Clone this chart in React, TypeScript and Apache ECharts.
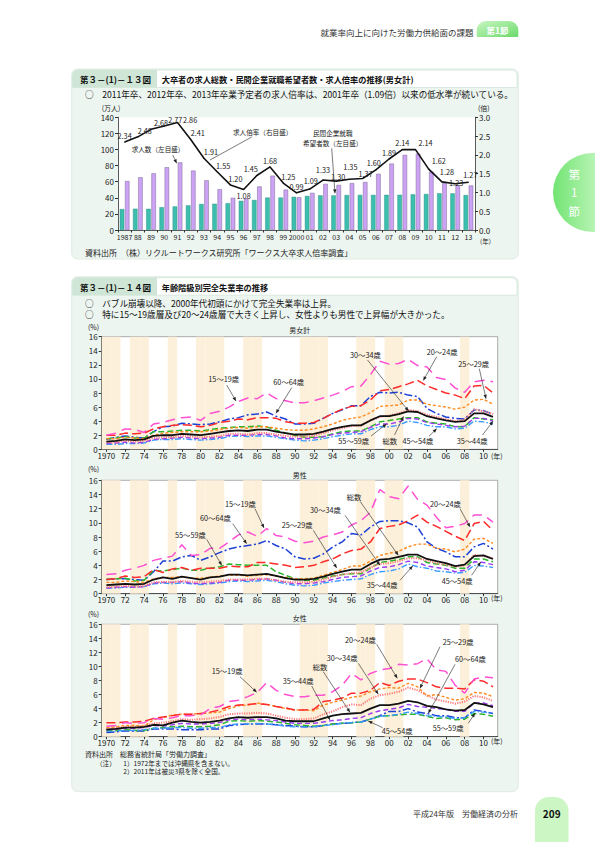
import React, { useEffect, useRef } from "react";
import * as echarts from "echarts";

const FONT = '"Noto Sans CJK JP", "Noto Sans", sans-serif';

// ===== 第3-(1)-13図 data =====
const gradYears = ["1987","88","89","90","91","92","93","94","95","96","97","98","99","2000","01","02","03","04","05","06","07","08","09","10","11","12","13"];
const jobSeekers = [26.0,26.4,26.3,28.3,29.3,30.6,32.3,32.6,33.2,36.2,37.3,40.3,40.3,41.2,42.3,43.0,43.0,43.4,43.5,43.6,43.7,43.7,44.3,44.7,45.6,45.5,43.4];
const jobOffers = [60.8,65.5,70.4,78.0,84.0,73.8,61.7,50.7,40.0,39.1,54.1,67.5,50.2,40.7,46.1,57.3,56.0,58.3,59.6,69.8,82.5,93.3,94.8,72.5,58.2,55.6,55.3];
const offerRatio = [2.34,2.48,2.68,2.77,2.86,2.41,1.91,1.55,1.20,1.08,1.45,1.68,1.25,0.99,1.09,1.33,1.30,1.35,1.37,1.60,1.89,2.14,2.14,1.62,1.28,1.23,1.27];
const leftTicks = { min: 0, max: 140, interval: 20 };
const rightTicks = { min: 0, max: 3, interval: 0.5 };

// ===== 第3-(1)-14図 data =====
const unempYears = ["1970","1971","1972","1973","1974","1975","1976","1977","1978","1979","1980","1981","1982","1983","1984","1985","1986","1987","1988","1989","1990","1991","1992","1993","1994","1995","1996","1997","1998","1999","2000","2001","2002","2003","2004","2005","2006","2007","2008","2009","2010","2011"];
const recessionYears = ["1970","1971","1973","1974","1977","1980","1981","1982","1985","1986","1991","1992","1993","1997","1998","2000","2001","2008"];
const unempTicks = { min: 0, max: 16, interval: 2 };

// 男女計
const all1519 = [2.0,2.3,2.9,2.8,2.4,3.6,3.8,4.2,4.5,4.6,4.1,5.1,5.4,6.0,6.8,7.3,7.2,8.0,7.2,6.9,6.6,6.6,6.9,7.3,7.7,8.2,8.9,9.0,10.6,12.5,12.1,12.2,12.8,11.9,11.7,10.2,9.9,8.7,8.1,9.6,9.8,9.6];
const all2024 = [2.0,2.0,2.3,2.2,2.3,2.9,3.2,3.4,3.5,3.4,3.2,3.4,3.8,4.0,4.3,4.2,4.5,4.5,4.4,3.9,3.7,3.7,3.8,4.4,5.1,5.7,6.1,6.2,7.0,8.3,8.5,8.9,9.3,9.8,9.0,8.5,8.0,7.7,7.2,9.0,9.1,8.0];
const all2529 = [1.5,1.5,1.7,1.6,1.5,2.0,2.3,2.4,2.5,2.5,2.5,2.6,2.8,3.0,3.1,3.0,3.2,3.2,3.0,2.8,2.7,2.7,2.9,3.2,3.6,4.1,4.4,4.6,5.2,6.1,6.2,6.3,7.0,7.0,6.4,6.2,6.0,5.7,6.0,7.0,7.1,6.4];
const all3034 = [1.0,1.0,1.2,1.1,1.2,1.6,1.7,1.7,1.9,1.8,1.7,1.8,1.9,2.2,2.2,2.1,2.3,2.3,2.1,1.9,1.8,1.8,1.9,2.3,2.7,3.0,3.3,3.4,4.1,4.6,4.8,5.1,5.6,5.4,4.9,4.6,4.3,4.0,4.2,5.7,5.4,5.0];
const all3544 = [0.8,0.9,1.0,0.9,1.0,1.4,1.5,1.6,1.7,1.6,1.5,1.6,1.7,2.0,2.0,2.0,2.1,2.1,1.9,1.6,1.5,1.5,1.6,1.8,2.1,2.3,2.4,2.5,3.1,3.6,3.6,3.9,4.4,4.3,3.8,3.6,3.4,3.2,3.3,4.4,4.4,4.0];
const all4554 = [0.7,0.7,0.8,0.8,0.9,1.3,1.4,1.4,1.5,1.4,1.3,1.4,1.5,1.8,1.9,1.8,1.9,1.9,1.7,1.5,1.3,1.2,1.3,1.5,1.8,2.0,2.2,2.2,2.8,3.2,3.2,3.4,4.0,3.8,3.4,3.2,3.2,2.9,3.0,4.0,3.9,3.6];
const all5559 = [1.5,1.6,1.8,1.6,1.6,2.5,2.5,2.6,2.7,2.7,2.6,2.8,3.0,3.1,3.2,3.2,3.3,3.2,2.7,2.3,2.0,1.7,1.7,1.8,2.2,2.5,2.6,2.6,3.2,3.9,4.1,4.3,4.5,4.5,3.9,3.7,3.6,3.2,3.2,4.5,4.3,4.2];
const all6064 = [1.4,1.7,1.9,1.7,1.6,2.5,3.2,3.3,3.7,3.6,3.5,3.6,3.9,4.3,4.5,4.9,5.0,5.3,4.7,4.3,3.6,3.6,3.7,4.4,5.1,5.6,6.2,6.2,7.5,8.1,8.0,8.1,7.7,7.5,5.8,5.1,4.6,4.4,4.3,5.6,5.5,5.0];
const allTotal = [1.1,1.2,1.4,1.3,1.4,1.9,2.0,2.0,2.2,2.1,2.0,2.2,2.4,2.6,2.7,2.6,2.8,2.8,2.5,2.3,2.1,2.1,2.2,2.5,2.9,3.2,3.4,3.4,4.1,4.7,4.7,5.0,5.4,5.3,4.7,4.4,4.1,3.9,4.0,5.1,5.1,4.6];

// 男性
const men1519 = [2.7,2.8,3.3,3.6,4.0,4.7,5.0,5.3,6.9,5.4,5.5,6.4,6.4,7.3,8.3,8.7,8.1,9.2,8.2,8.0,7.4,7.2,7.4,8.0,8.3,8.7,9.7,10.3,11.5,14.7,13.7,13.4,15.2,13.3,12.5,10.8,9.3,9.5,9.9,11.1,11.1,10.1];
const men2024 = [2.0,2.1,2.5,2.3,2.4,3.4,3.0,3.5,3.7,3.3,3.6,3.6,3.6,3.9,3.8,3.8,4.4,4.4,4.2,4.0,3.7,3.8,4.0,4.5,4.9,5.6,6.1,6.3,7.3,9.2,9.5,9.7,10.3,11.1,10.1,9.5,8.8,8.1,7.5,9.9,10.2,8.9];
const men2529 = [1.6,1.6,1.8,1.7,1.6,2.1,2.3,2.3,2.4,2.2,2.2,2.3,2.5,2.6,2.6,2.5,2.6,2.7,2.5,2.3,2.1,2.1,2.2,2.6,3.0,3.4,3.9,3.9,4.6,5.4,5.7,6.0,6.6,7.0,7.0,6.4,6.3,5.9,6.3,7.7,7.8,7.1];
const men3034 = [0.9,1.0,1.1,1.0,1.1,1.6,1.7,1.6,1.8,1.7,1.6,1.7,1.8,2.0,2.0,2.0,2.1,2.1,1.9,1.7,1.6,1.6,1.7,2.0,2.4,2.7,2.9,3.0,3.7,4.2,4.3,4.6,5.0,5.0,4.7,4.3,4.1,3.8,4.0,5.5,5.3,5.0];
const men3544 = [0.8,0.9,1.0,0.9,1.0,1.5,1.6,1.6,1.7,1.5,1.4,1.5,1.6,1.9,1.9,1.9,2.0,2.1,1.9,1.6,1.4,1.4,1.5,1.7,2.0,2.3,2.4,2.5,3.2,3.7,3.8,4.1,4.6,4.4,3.9,3.7,3.5,3.1,3.3,4.5,4.4,4.1];
const men4554 = [0.8,0.8,0.9,0.9,1.0,1.4,1.5,1.4,1.5,1.4,1.3,1.4,1.5,1.7,1.8,1.7,1.8,1.9,1.7,1.4,1.2,1.1,1.2,1.5,1.7,1.9,2.0,2.1,2.7,3.1,3.2,3.5,4.2,3.8,3.6,3.2,3.1,2.9,3.0,4.0,3.9,3.7];
const men5559 = [2.0,2.1,2.2,1.8,1.9,3.3,3.2,3.4,3.6,3.3,3.3,3.6,3.8,4.2,4.1,4.0,4.0,4.0,3.1,2.6,2.1,1.9,1.9,2.2,2.5,2.7,2.8,2.8,3.6,4.4,4.6,4.8,5.2,5.2,4.4,4.2,4.0,3.6,3.6,4.9,4.9,4.5];
const men6064 = [2.0,2.1,2.1,2.0,1.9,3.1,4.6,4.6,5.2,5.4,4.7,5.2,5.8,6.3,6.6,6.8,7.0,7.5,6.8,6.3,5.2,4.9,5.0,5.6,6.6,7.3,8.5,8.3,9.4,10.2,10.3,10.3,10.0,9.4,7.3,6.4,5.9,5.2,5.2,6.6,7.1,6.3];
const menTotal = [1.2,1.3,1.4,1.3,1.4,2.0,2.3,2.1,2.4,2.2,2.0,2.3,2.4,2.7,2.7,2.6,2.7,2.8,2.5,2.2,2.0,2.0,2.1,2.4,2.8,3.1,3.4,3.4,4.2,4.8,4.9,5.2,5.5,5.5,4.9,4.6,4.3,3.9,4.1,5.3,5.4,4.9];

// 女性
const wom1519 = [1.5,1.6,2.0,1.9,2.0,2.6,2.5,2.7,3.0,3.0,3.1,4.0,4.3,5.0,5.2,5.7,6.3,7.7,6.6,6.0,5.7,5.7,5.9,5.9,6.4,7.3,9.0,8.1,9.0,9.5,9.7,10.3,10.2,10.4,11.1,9.5,9.3,7.3,6.2,8.2,8.5,8.4];
const wom2024 = [2.0,2.0,2.1,2.1,2.2,2.6,2.8,3.0,3.2,3.2,3.3,3.5,3.8,4.3,4.5,4.6,4.7,4.6,4.3,4.1,3.8,3.8,3.9,5.0,5.2,5.5,6.2,6.2,6.6,7.7,7.3,7.9,8.2,8.2,7.7,7.1,6.9,6.9,6.8,8.1,7.9,7.1];
const wom2529 = [1.3,1.4,1.6,1.6,1.5,2.4,2.7,3.1,3.2,3.2,3.3,3.4,3.5,4.0,4.4,4.5,4.8,4.6,4.3,4.0,3.8,3.8,3.7,4.5,4.9,5.2,5.6,5.8,6.4,6.8,7.0,6.9,7.6,7.1,5.8,6.0,5.6,5.2,5.4,6.3,6.2,5.7];
const wom3034 = [1.1,1.2,1.4,1.4,1.5,1.9,2.0,2.2,2.5,2.4,2.5,2.6,2.8,3.2,3.3,3.3,3.4,3.3,3.0,2.7,2.5,2.5,2.6,3.2,3.6,4.2,4.6,4.5,5.4,5.9,6.1,6.4,7.0,6.6,5.9,5.3,5.0,4.7,5.0,5.8,5.6,5.1];
const wom3544 = [1.0,1.1,1.2,1.2,1.3,1.6,1.5,1.7,1.9,1.8,1.8,1.9,2.0,2.4,2.5,2.4,2.5,2.4,2.3,2.1,1.9,1.9,1.9,2.1,2.3,2.4,2.6,2.7,3.3,3.7,3.9,4.1,4.6,4.3,4.2,4.0,3.9,3.6,3.6,4.8,4.8,4.4];
const wom4554 = [0.8,0.8,0.9,0.9,1.0,1.2,1.2,1.3,1.3,1.2,1.2,1.3,1.3,1.7,1.8,1.8,1.9,1.8,1.7,1.5,1.4,1.4,1.4,1.6,1.7,1.9,2.0,2.1,2.5,2.9,3.0,3.2,3.5,3.3,3.0,2.9,2.8,2.6,2.7,3.6,3.5,3.3];
const wom5559 = [0.9,0.9,1.0,0.9,0.9,1.2,1.3,1.4,1.5,1.4,1.4,1.5,1.7,2.2,2.3,2.2,2.3,2.2,2.1,1.9,1.7,1.6,1.5,1.6,1.8,1.9,2.0,2.1,2.5,2.9,3.0,3.1,3.2,3.2,2.9,2.6,2.7,2.4,2.5,3.3,3.2,2.9];
const wom6064 = [0.6,0.7,0.8,0.8,0.8,1.1,1.1,1.1,1.0,1.0,1.0,1.1,1.1,1.6,1.7,1.8,1.8,1.8,1.7,1.6,1.5,1.4,1.4,1.6,1.8,1.9,2.0,2.1,2.5,3.0,3.6,3.6,4.0,3.5,3.3,3.0,3.0,2.7,2.7,3.8,3.6,3.3];
const womTotal = [1.0,1.1,1.3,1.3,1.4,1.7,1.6,2.0,2.3,2.1,2.0,2.1,2.3,2.6,2.8,2.7,2.8,2.8,2.6,2.3,2.2,2.2,2.2,2.6,3.0,3.2,3.3,3.4,4.0,4.5,4.5,4.7,5.1,4.9,4.4,4.2,3.9,3.7,3.8,4.8,4.6,4.2];

const ageKeys = ["60～64歳","55～59歳","45～54歳","35～44歳","30～34歳","25～29歳","20～24歳","15～19歳","総数"];
const panelData: Record<string, number[]>[] = [
  { "15～19歳": all1519, "20～24歳": all2024, "25～29歳": all2529, "30～34歳": all3034, "35～44歳": all3544, "45～54歳": all4554, "55～59歳": all5559, "60～64歳": all6064, "総数": allTotal },
  { "15～19歳": men1519, "20～24歳": men2024, "25～29歳": men2529, "30～34歳": men3034, "35～44歳": men3544, "45～54歳": men4554, "55～59歳": men5559, "60～64歳": men6064, "総数": menTotal },
  { "15～19歳": wom1519, "20～24歳": wom2024, "25～29歳": wom2529, "30～34歳": wom3034, "35～44歳": wom3544, "45～54歳": wom4554, "55～59歳": wom5559, "60～64歳": wom6064, "総数": womTotal },
];
const panelTitles = ["男女計", "男性", "女性"];

// ===== styles / layout =====
const lineStyles: Record<string, any> = {
  "15～19歳": { color: "#ff4fd2", width: 1.5, type: [10, 6] },
  "20～24歳": { color: "#ff2b2b", width: 1.5, type: [9, 4] },
  "25～29歳": { color: "#ff8a1f", width: 1.4, type: [3, 2] },
  "30～34歳": { color: "#ff7b7b", width: 2, type: [1.2, 1.2] },
  "35～44歳": { color: "#9a3cf0", width: 1.4, type: [5, 3] },
  "45～54歳": { color: "#3a9cff", width: 1.4, type: [6, 2, 1.5, 2] },
  "55～59歳": { color: "#2cb52c", width: 1.5, type: [6, 3] },
  "60～64歳": { color: "#1c3fd6", width: 1.5, type: [8, 2.5, 2, 2.5] },
  "総数": { color: "#111", width: 1.8, type: "solid" },
};

const panelGrids = [
  { left: 101.7, top: 336.7, width: 396, height: 112.6 },
  { left: 101.7, top: 480.3, width: 396, height: 113.4 },
  { left: 101.7, top: 624.3, width: 396, height: 112.4 },
];
const panelTextY = [
  { pct: 326.7, title: 330, year: 456 },
  { pct: 469.3, title: 474.7, year: 598 },
  { pct: 614.3, title: 618.3, year: 741 },
];

const panelNotes: [string, number, number, number, number, number, number][][] = [
  [
    ["15～19歳", 208.3, 379.3, 226.7, 385, 236, 401],
    ["60～64歳", 273.3, 382.3, 291.7, 387.7, 276, 413.3],
    ["30～34歳", 350, 354.5, 367.5, 360, 408.5, 411],
    ["20～24歳", 426.7, 351.7, 436.7, 356.7, 423.3, 380.5],
    ["25～29歳", 458.3, 364, 479.3, 368.7, 486, 398.7],
    ["55～59歳", 338.3, 441.3, 371, 436, 386.5, 424],
    ["総数", 382.5, 440.5, 394.5, 435, 403.5, 416.5],
    ["45～54歳", 402.5, 440.5, 429, 436.3, 436.7, 428.7],
    ["35～44歳", 456.7, 440.5, 482.5, 435, 493, 421.2],
  ],
  [
    ["15～19歳", 225, 503.7, 255, 508.7, 264, 528],
    ["60～64歳", 200, 518, 232.7, 523.7, 246.7, 543.7],
    ["55～59歳", 175, 534.7, 206.7, 539.3, 221.7, 565.3],
    ["25～29歳", 281.7, 525.3, 313.3, 530.3, 336.7, 568],
    ["30～34歳", 310, 510.3, 345, 515.3, 380, 565.3],
    ["総数", 346.7, 497, 360, 501.3, 398.3, 555.3],
    ["20～24歳", 430, 503.7, 460, 508.7, 470, 527],
    ["35～44歳", 366.7, 584.7, 400, 580.3, 412.7, 566],
    ["45～54歳", 441.7, 581.3, 471.7, 575.3, 480.7, 562],
  ],
  [
    ["15～19歳", 211.7, 671, 240, 676.7, 256.7, 692.3],
    ["35～44歳", 282.7, 681, 311.7, 686, 330, 720],
    ["総数", 312.7, 666.7, 323.3, 671.7, 350, 712.3],
    ["30～34歳", 326.7, 658.3, 358.3, 663.3, 378.3, 694.3],
    ["20～24歳", 345, 640, 376.7, 644.3, 397.3, 678.3],
    ["25～29歳", 442.7, 642.3, 440, 646.7, 420, 688.3],
    ["60～64歳", 455, 659.3, 455, 664.3, 428.3, 713.3],
    ["45～54歳", 381.7, 731, 382.7, 727.7, 368.3, 721],
    ["55～59歳", 432.7, 728.3, 468.3, 723.3, 475, 713.3],
  ],
];

const ratioLabelPlacement: Record<number, any> = {
  1: { offset: [7, 0] },
  2: { offset: [10, 0] },
  3: { offset: [11, 0] },
  4: { position: "right", offset: [3, -3] },
  5: { offset: [7, 0] },
  6: { offset: [7, 0] },
  7: { offset: [6, 0] },
  8: { offset: [5, 0] },
  9: { position: "bottom" },
  10: { offset: [-6, 0] },
  12: { offset: [5, 0] },
  14: { offset: [1, -2] },
  15: { offset: [0, -4] },
  16: { offset: [2, 2] },
  17: { offset: [1, -6] },
  18: { offset: [3, 2] },
  19: { offset: [-2, -1] },
  22: { offset: [10, 0] },
  23: { offset: [10, -2] },
  24: { offset: [5, -4] },
  25: { offset: [1, 5] },
  26: { offset: [2, -1] },
};

function txt(text: string, x: number, y: number, o: any = {}) {
  return {
    type: "text", silent: true, z: 100,
    style: {
      text, x, y, fill: "#222", fontSize: 7.5, fontFamily: FONT,
      textAlign: "left", align: "left", textVerticalAlign: "middle", verticalAlign: "middle", ...o,
    },
  };
}
function arrow(x1: number, y1: number, x2: number, y2: number, head = true) {
  const out: any[] = [{ type: "line", silent: true, z: 100, shape: { x1, y1, x2, y2 }, style: { stroke: "#222", lineWidth: 0.6 } }];
  if (head) {
    const dx = x2 - x1, dy = y2 - y1, L = Math.hypot(dx, dy), ux = dx / L, uy = dy / L;
    const hl = 4, hw = 1.7, bx = x2 - ux * hl, by = y2 - uy * hl;
    out.push({ type: "polygon", silent: true, z: 100, shape: { points: [[x2, y2], [bx - uy * hw, by + ux * hw], [bx + uy * hw, by - ux * hw]] }, style: { fill: "#222" } });
  }
  return out;
}
function box(y: number, h: number, title1: string, title2: string) {
  return [
    { type: "rect", silent: true, z: -10, shape: { x: 71.7, y, width: 446.6, height: h, r: 6 }, style: { fill: "#edf5f0", stroke: "#dfece3", lineWidth: 1 } },
    { type: "rect", silent: true, z: -9, shape: { x: 72.5, y: y + 1, width: 444.5, height: 17.5, r: [5, 5, 0, 0] }, style: { fill: "#fff", stroke: "#d3e5d8", lineWidth: 0.8 } },
    { type: "rect", silent: true, z: -8, shape: { x: 72.5, y: y + 1, width: 84.5, height: 17.5, r: [5, 0, 0, 0] }, style: { fill: "#cfe5d5" } },
    txt(title1, 80, y + 9.8, { fontSize: 8.5, fontWeight: "bold", fill: "#111" }),
    txt(title2, 161.7, y + 9.8, { fontSize: 8.2, fontWeight: "bold", fill: "#111" }),
  ];
}

function buildOption() {
  const axisLineStyle = { lineStyle: { color: "#333", width: 0.8 } };
  const grids: any[] = [
    { left: 118, top: 117.3, width: 357, height: 112.7, show: true, backgroundColor: "#fff", borderWidth: 0 },
    ...panelGrids.map((g) => ({ ...g, show: true, backgroundColor: "#fff", borderColor: "#777", borderWidth: 0.6 })),
  ];
  const xAxes: any[] = [
    {
      type: "category", gridIndex: 0, data: gradYears, boundaryGap: true,
      axisLine: axisLineStyle, axisTick: { show: true, length: 2.5, lineStyle: { color: "#333" } },
      axisLabel: { interval: 0, fontSize: 7, color: "#222", margin: 3, fontFamily: FONT },
    },
  ];
  const yAxes: any[] = [
    {
      type: "value", gridIndex: 0, ...leftTicks, axisLine: { show: true, ...axisLineStyle },
      axisTick: { show: true, length: 3, lineStyle: { color: "#333" } }, splitLine: { show: false },
      axisLabel: { fontSize: 8, color: "#222", margin: 4, fontFamily: FONT },
    },
    {
      type: "value", gridIndex: 0, position: "right", ...rightTicks, axisLine: { show: true, ...axisLineStyle },
      axisTick: { show: true, length: 3, lineStyle: { color: "#333" } }, splitLine: { show: false },
      axisLabel: { fontSize: 8, color: "#222", margin: 4, fontFamily: FONT, formatter: (v: number) => v.toFixed(1) },
    },
  ];
  const series: any[] = [
    {
      type: "bar", xAxisIndex: 0, yAxisIndex: 0, data: jobSeekers, barWidth: 4.5, barGap: "15%", silent: true,
      itemStyle: { color: "#3cbfae", borderColor: "#27877b", borderWidth: 0.4 },
    },
    {
      type: "bar", xAxisIndex: 0, yAxisIndex: 0, data: jobOffers, barWidth: 4.5, silent: true,
      itemStyle: { color: "#cba2f4", borderColor: "#7d6a96", borderWidth: 0.5 },
    },
    {
      type: "line", xAxisIndex: 0, yAxisIndex: 1, silent: true, z: 5,
      data: offerRatio.map((v, i) => ({ value: v, label: ratioLabelPlacement[i] || {} })),
      symbol: "circle", symbolSize: 1, itemStyle: { color: "#111" },
      lineStyle: { color: "#111", width: 1.6 },
      label: { show: true, position: "top", distance: 2, fontSize: 7.3, color: "#222", fontFamily: FONT, formatter: (p: any) => Number(p.value).toFixed(2) },
    },
  ];

  panelData.forEach((pd, p) => {
    const gi = p + 1;
    xAxes.push({
      type: "category", gridIndex: gi, data: unempYears, boundaryGap: true,
      axisLine: axisLineStyle, axisTick: { show: true, interval: 1, alignWithLabel: true, length: 2.5, lineStyle: { color: "#333" } },
      axisLabel: { interval: 1, fontSize: 8, color: "#222", margin: 2, fontFamily: FONT, formatter: (v: string) => (v === "1970" ? v : v.slice(2)) },
    });
    yAxes.push({
      type: "value", gridIndex: gi, ...unempTicks, axisLine: { show: true, ...axisLineStyle },
      axisTick: { show: true, length: 3, lineStyle: { color: "#333" } }, splitLine: { show: false },
      axisLabel: { fontSize: 8, color: "#222", margin: 4, fontFamily: FONT },
    });
    const xi = p + 1, yi = p + 2;
    series.push({
      type: "bar", xAxisIndex: xi, yAxisIndex: yi, silent: true, z: 1,
      data: unempYears.map((y) => (recessionYears.includes(y) ? unempTicks.max : "-")),
      barWidth: "100%", itemStyle: { color: "#fdf0da" },
    });
    ageKeys.forEach((k, idx) => {
      series.push({
        type: "line", name: k, xAxisIndex: xi, yAxisIndex: yi, silent: true, z: 3 + idx * 0.1,
        data: pd[k], symbol: "none", lineStyle: { ...lineStyles[k] },
      });
    });
  });

  const g: any[] = [];
  // page header
  g.push(txt("就業率向上に向けた労働力供給面の課題", 473.5, 31.5, { fontSize: 8.5, textAlign: "right", align: "right", fill: "#333" }));
  g.push({ type: "rect", silent: true, z: 50, shape: { x: 476.7, y: 21, width: 41.6, height: 16, r: [9, 9, 1, 1] },
    style: { fill: { type: "linear", x: 0, y: 0, x2: 1, y2: 1, colorStops: [{ offset: 0, color: "#c9f6c2" }, { offset: 1, color: "#6ada6a" }] } } });
  g.push(txt("第1節", 497.5, 29.5, { fontSize: 8.5, fontWeight: "bold", fill: "#fff", textAlign: "center", align: "center" }));
  // side tab
  g.push({ type: "rect", silent: true, z: 50, shape: { x: 553, y: 153, width: 60, height: 79, r: [39.5, 0, 0, 39.5] },
    style: { fill: { type: "linear", x: 0, y: 0, x2: 1, y2: 0, colorStops: [{ offset: 0, color: "#72e472" }, { offset: 1, color: "#d4fbd0" }] } } });
  g.push(txt("第", 574.3, 174, { fontSize: 11.5, fill: "#fff", textAlign: "center", align: "center" }));
  g.push(txt("1", 574.3, 192, { fontSize: 11.5, fill: "#fff", textAlign: "center", align: "center" }));
  g.push(txt("節", 574.3, 210.5, { fontSize: 11.5, fill: "#fff", textAlign: "center", align: "center" }));
  // footer
  g.push(txt("平成24年版　労働経済の分析", 518, 813, { fontSize: 8, textAlign: "right", align: "right", fill: "#333" }));
  g.push({ type: "rect", silent: true, z: 50, shape: { x: 535, y: 797, width: 33.5, height: 50, r: [14, 14, 0, 0] }, style: { fill: "#ccf7c4" } });
  g.push(txt("209", 551.7, 813, { fontSize: 10, fontWeight: "bold", fill: "#111", textAlign: "center", align: "center" }));

  // box 1
  g.push(...box(69, 190, "第３－(1)－１３図", "大卒者の求人総数・民間企業就職希望者数・求人倍率の推移(男女計)"));
  g.push(txt("○　2011年卒、2012年卒、2013年卒業予定者の求人倍率は、2001年卒（1.09倍）以来の低水準が続いている。", 85, 93.5, { fontSize: 8.6, fill: "#111" }));
  g.push(txt("(万人)", 101.7, 107.5, { fontSize: 7 }));
  g.push(txt("(倍)", 478, 107.5, { fontSize: 7 }));
  g.push(txt("(年)", 480, 241, { fontSize: 6.5 }));
  g.push(txt("求人倍率（右目盛）", 233, 131.7, { fontSize: 6.6 }));
  g.push(...arrow(251.7, 137, 210, 160, false));
  g.push(txt("求人数（左目盛）", 131.7, 149.3, { fontSize: 6.6 }));
  g.push(...arrow(172.7, 155, 176.7, 163.3));
  g.push(txt("民間企業就職", 313, 132.7, { fontSize: 6.6 }));
  g.push(txt("希望者数（左目盛）", 303, 143.3, { fontSize: 6.6 }));
  g.push(...arrow(331.7, 148.3, 335, 193.3));
  g.push(txt("資料出所　（株）リクルートワークス研究所「ワークス大卒求人倍率調査」", 85, 252.5, { fontSize: 8 }));

  // box 2
  g.push(...box(276.7, 515, "第３－(1)－１４図", "年齢階級別完全失業率の推移"));
  g.push(txt("○　バブル崩壊以降、2000年代初頭にかけて完全失業率は上昇。", 85, 303.3, { fontSize: 8.6, fill: "#111" }));
  g.push(txt("○　特に15～19歳層及び20～24歳層で大きく上昇し、女性よりも男性で上昇幅が大きかった。", 85, 314.3, { fontSize: 8.6, fill: "#111" }));
  panelTitles.forEach((t, p) => {
    const ty = panelTextY[p];
    g.push(txt("(%)", 88, ty.pct, { fontSize: 7 }));
    g.push(txt(t, 299.7, ty.title, { fontSize: 7, textAlign: "center", align: "center" }));
    g.push(txt("(年)", 491, ty.year, { fontSize: 7 }));
    panelNotes[p].forEach(([label, tx, tyy, a1, b1, a2, b2]) => {
      g.push(txt(label, tx, tyy, { fontSize: 7.3 }));
      g.push(...arrow(a1, b1, a2, b2));
    });
  });
  g.push(txt("資料出所　総務省統計局「労働力調査」", 85, 754, { fontSize: 7 }));
  g.push(txt("（注）", 96, 762.5, { fontSize: 6.6 }));
  g.push(txt("1）1972年までは沖縄県を含まない。", 123.3, 762.5, { fontSize: 6.6 }));
  g.push(txt("2）2011年は被災3県を除く全国。", 123.3, 771, { fontSize: 6.6 }));

  return {
    animation: false,
    textStyle: { fontFamily: FONT },
    grid: grids,
    xAxis: xAxes,
    yAxis: yAxes,
    series,
    graphic: { elements: g },
  };
}

export default function App() {
  const ref = useRef<HTMLDivElement>(null);
  useEffect(() => {
    const chart = echarts.init(ref.current!, null, { renderer: "svg" });
    chart.setOption(buildOption() as any);
    return () => chart.dispose();
  }, []);
  return (
    <div
      ref={ref}
      style={{ position: "absolute", left: 0, top: 0, width: 595, height: 842, background: "#fff" }}
    />
  );
}
